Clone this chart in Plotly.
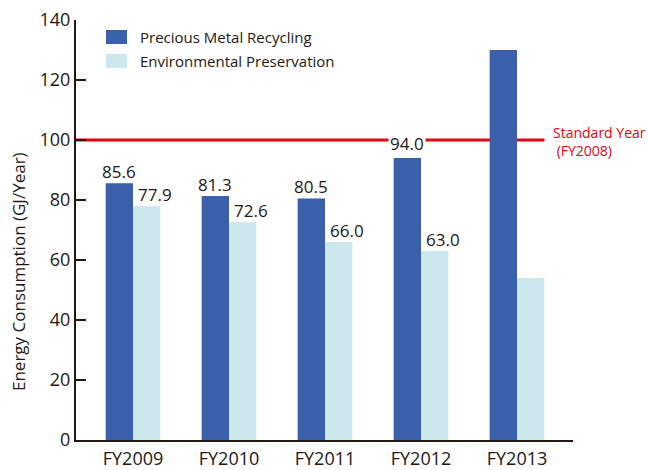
import plotly.graph_objects as go

categories = ["FY2009", "FY2010", "FY2011", "FY2012", "FY2013"]
precious_metal = [85.6, 81.3, 80.5, 94.0, 130.0]
environmental = [77.9, 72.6, 66.0, 63.0, 54.0]
precious_labels = ["85.6", "81.3", "80.5", "94.0", ""]
environmental_labels = ["77.9", "72.6", "66.0", "63.0", ""]
series_names = ["Precious Metal Recycling", "Environmental Preservation"]
standard_value = 100
standard_label = "Standard Year<br> (FY2008)"
y_ticks = [0, 20, 40, 60, 80, 100, 120, 140]

DARK = "#3a5fab"
LIGHT = "#cde8ec"
RED = "#e60012"
INK = "#231815"
FONT = "Open Sans"

W, H = 648, 470
L, R, T, B = 76, 75, 20, 30
PW, PH = W - L - R, H - T - B


def px(x):
    return (x - L) / PW


def py(y):
    return (H - B - y) / PH


fig = go.Figure()
fig.add_trace(go.Bar(x=categories, y=precious_metal, name=series_names[0],
                     marker=dict(color=DARK, line=dict(width=0))))
fig.add_trace(go.Bar(x=categories, y=environmental, name=series_names[1],
                     marker=dict(color=LIGHT, line=dict(width=0))))

annotations = []
for i, (v, lab) in enumerate(zip(precious_metal, precious_labels)):
    if lab:
        annotations.append(dict(x=i - 0.143, y=v, xref="x", yref="y", text=lab,
                                showarrow=False, yanchor="middle",
                                yshift=15 if v > 90 else 12,
                                bgcolor="white" if v > 90 else None, borderpad=1,
                                font=dict(family=FONT, size=17, color=INK)))
for i, (v, lab) in enumerate(zip(environmental, environmental_labels)):
    if lab:
        annotations.append(dict(x=i + 0.143, y=v, xref="x", yref="y", text=lab,
                                showarrow=False, yanchor="middle", yshift=12, xshift=8,
                                font=dict(family=FONT, size=17, color=INK)))

# y-axis title
annotations.append(dict(x=px(18), y=py(272), xref="paper", yref="paper",
                        text="Energy Consumption (GJ/Year)", textangle=-90,
                        showarrow=False, xanchor="center", yanchor="middle",
                        font=dict(family=FONT, size=17, color=INK)))
# standard year label
annotations.append(dict(x=px(551), y=py(141), xref="paper", yref="paper",
                        text=standard_label, showarrow=False, xanchor="left",
                        align="left", yanchor="middle",
                        font=dict(family=FONT, size=14, color=RED)))

shapes = [
    dict(type="line", xref="x", yref="y", x0=-0.6, x1=4.286, y0=standard_value,
         y1=standard_value, line=dict(color=RED, width=3), layer="below"),
]
# manual legend
for k, (name, col) in enumerate(zip(series_names, [DARK, LIGHT])):
    y0 = 30 + 24 * k
    shapes.append(dict(type="rect", xref="paper", yref="paper", x0=px(106), x1=px(127),
                       y0=py(y0 + 14), y1=py(y0), fillcolor=col, line=dict(width=0)))
    annotations.append(dict(x=px(138), y=py(y0 + 7), xref="paper", yref="paper",
                            text=name, showarrow=False, xanchor="left", yanchor="middle",
                            font=dict(family=FONT, size=15, color=INK)))

fig.update_layout(
    width=W, height=H,
    margin=dict(l=L, r=R, t=T, b=B, pad=0, autoexpand=False),
    paper_bgcolor="white", plot_bgcolor="white",
    barmode="group", bargap=0.43, bargroupgap=0,
    showlegend=False,
    annotations=annotations, shapes=shapes,
    font=dict(family=FONT, color=INK),
)
fig.update_xaxes(range=[-0.594, 4.583], showline=True, linecolor=INK, linewidth=2,
                 ticks="", showgrid=False, zeroline=False, automargin=False,
                 tickfont=dict(family=FONT, size=18, color=INK), ticklabelstandoff=1)
fig.update_yaxes(range=[0, 140], tickvals=y_ticks, showline=True, linecolor=INK,
                 linewidth=2, ticks="inside", ticklen=10, tickwidth=2, tickcolor=INK,
                 showgrid=False, zeroline=False, automargin=False,
                 tickfont=dict(family=FONT, size=18, color=INK))

fig.write_html("out.html", config={"displayModeBar": False},
               post_script="document.body.style.margin='0';document.body.style.padding='0';")
